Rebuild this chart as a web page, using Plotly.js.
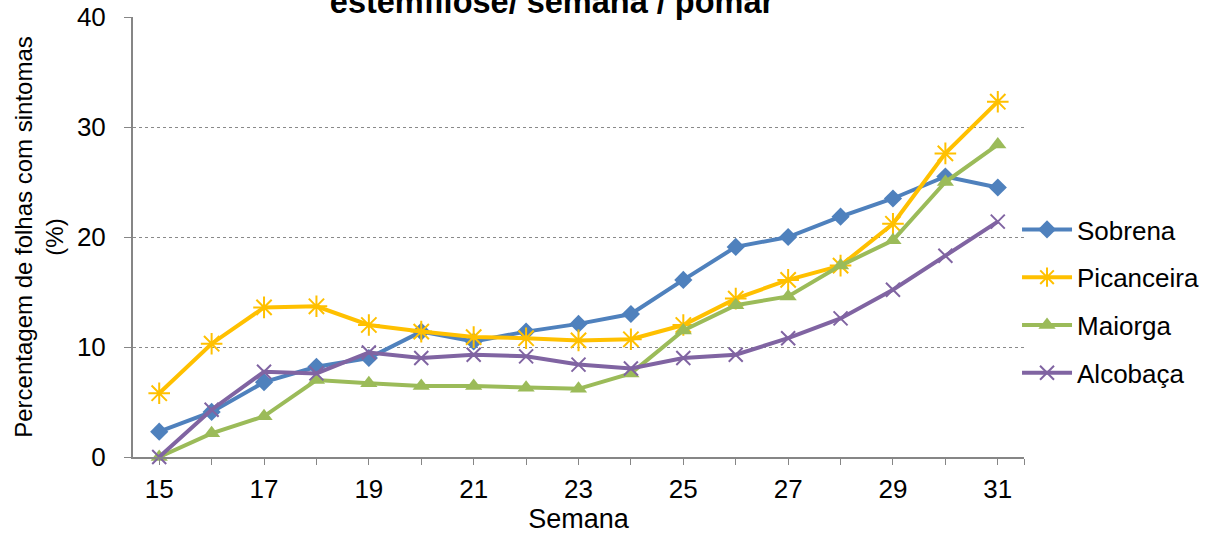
<!DOCTYPE html>
<html>
<head>
<meta charset="utf-8">
<script src="https://cdn.plot.ly/plotly-3.0.1.min.js"></script>
<style>html,body{margin:0;padding:0;background:#fff;}#chart{width:1216px;height:535px;}</style>
</head>
<body>
<div id="chart"></div>
<script>
const semanas = [15,16,17,18,19,20,21,22,23,24,25,26,27,28,29,30,31];
const sobrena =    [2.3,4.1,6.8,8.2,9.0,11.4,10.5,11.4,12.1,13.0,16.1,19.1,20.0,21.85,23.5,25.5,24.5];
const picanceira = [5.8,10.3,13.6,13.7,12.0,11.4,10.9,10.8,10.6,10.7,12.0,14.4,16.1,17.4,21.2,27.6,32.3];
const maiorga =    [0,2.15,3.7,7.0,6.7,6.45,6.45,6.3,6.2,7.6,11.5,13.8,14.6,17.4,19.7,25.0,28.4];
const alcobaca =   [0,4.3,7.75,7.6,9.5,9.0,9.3,9.15,8.4,8.05,9.0,9.3,10.8,12.6,15.2,18.3,21.4];
const seriesNames = ['Sobrena','Picanceira','Maiorga','Alcobaça'];
const xTickVals = [15,16,17,18,19,20,21,22,23,24,25,26,27,28,29,30,31,31.5];
const xTickText = ['15','','17','','19','','21','','23','','25','','27','','29','','31',''];
const yTickVals = [0,10,20,30,40];

const colors = ['#4F81BD','#FFC000','#9BBB59','#8064A2'];
const symbols = ['diamond','asterisk-open','triangle-up','x-thin-open'];
const sizes = [14,18,15,14];
const allData = [sobrena, picanceira, maiorga, alcobaca];

const traces = allData.map((ys,i)=>({
  type:'scatter', mode:'lines+markers', x:semanas, y:ys, name:seriesNames[i],
  legendgroup:'g'+i, cliponaxis:false,
  line:{color:colors[i], width:4},
  marker:{symbol:symbols[i], size:sizes[i], color:colors[i], line:{color:colors[i], width:(i===1||i===3)?2:0}}
}));

const font = 'Arial, "Liberation Sans", sans-serif';
const layout = {
  width:1216, height:535,
  margin:{l:133, r:189, t:17, b:78},
  paper_bgcolor:'#fff', plot_bgcolor:'#fff',
  font:{family:font, size:26, color:'#000'},
  title:{text:'<b>estemfilose/ semana / pomar</b>', font:{family:font, size:32.5, color:'#000'},
         xref:'container', x:552/1216, xanchor:'center', yref:'container', y:1-13/535, yanchor:'bottom'},
  xaxis:{range:[14.5,31.5], tickvals:xTickVals, ticktext:xTickText, ticks:'outside', ticklen:6, tickcolor:'#868686',
         showline:true, linecolor:'#868686', linewidth:2, showgrid:false, zeroline:false, ticklabelstandoff:2,
         tickfont:{size:26}, title:{text:'Semana', font:{size:27}, standoff:6}},
  yaxis:{range:[0,40], tickvals:yTickVals, ticks:'outside', ticklen:7, tickcolor:'#868686',
         showline:true, linecolor:'#868686', linewidth:2, showgrid:true, gridcolor:'#8a8a8a', griddash:'dot', gridwidth:1,
         zeroline:false, tickfont:{size:26}, ticklabelstandoff:13,
         title:{text:'Percentagem de folhas com sintomas<br>(%)', font:{size:24}, standoff:6}},
  legend:{x:(1020-133)/894, xanchor:'left', y:(457-206)/440, yanchor:'top', font:{size:26}, tracegroupgap:11,
          itemwidth:50, bgcolor:'rgba(0,0,0,0)'},
  showlegend:true
};
Plotly.newPlot('chart', traces, layout, {displayModeBar:false, staticPlot:true});
</script>
</body>
</html>
